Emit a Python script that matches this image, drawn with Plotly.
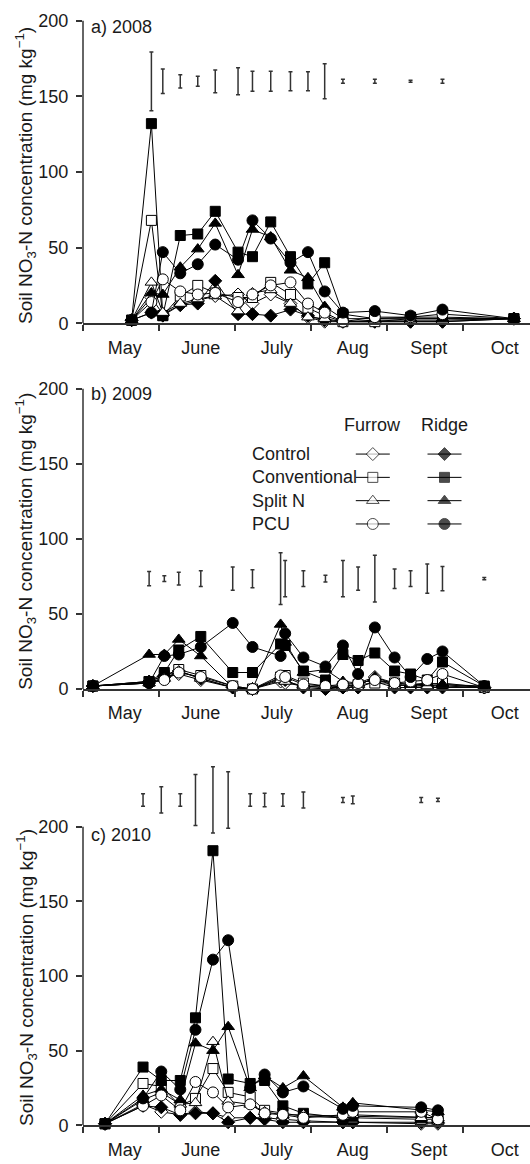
import plotly.graph_objects as go

# ---------------- data (x = months after 1 May) ----------------
MONTHS = ["May", "June", "July", "Aug", "Sept", "Oct"]
MONTH_LABEL_POS = [0.55, 1.55, 2.55, 3.55, 4.55, 5.55]
MONTH_BOUNDS = [0, 1, 2, 3, 4, 5]
Y_TICKS = [0, 50, 100, 150, 200]
TREATMENTS = ["Control", "Conventional", "Split N", "PCU"]

# 2008
x_2008 = [0.64, 0.90, 1.05, 1.28, 1.51, 1.74, 2.04, 2.23, 2.47, 2.73, 2.96, 3.18, 3.42, 3.84, 4.31, 4.73, 5.67]
a_furrow_control = [2, 17, 6, 12, 15, 18, 19, 13, 19, 13, 4, 1, 1, 1, 1, 1, 3]
a_ridge_control = [2, 7, 5, 12, 13, 28, 6, 6, 5, 9, 5, 2, 1, 1, 1, 1, 3]
a_furrow_conv = [2, 68, 5, 18, 25, 20, 17, 17, 27, 19, 10, 5, 1, 1, 3, 3, 3]
a_ridge_conv = [2, 132, 5, 58, 59, 74, 47, 44, 67, 44, 26, 40, 6, 3, 4, 4, 3]
a_furrow_split = [2, 27, 7, 13, 16, 18, 8, 20, 22, 13, 4, 3, 1, 2, 2, 2, 3]
a_ridge_split = [2, 20, 19, 37, 49, 66, 32, 62, 57, 35, 30, 11, 3, 3, 3, 3, 3]
a_furrow_pcu = [2, 14, 29, 21, 19, 20, 14, 19, 25, 27, 13, 7, 1, 4, 4, 6, 3]
a_ridge_pcu = [2, 7, 47, 33, 39, 52, 42, 68, 56, 40, 47, 21, 7, 8, 5, 9, 3]
a_lsd = [19.4, 8.1, 4.4, 3.3, 7.5, 8.9, 6.6, 6.6, 6.3, 6.3, 11.6, 1.3, 1.3, 0.7, 1.3]
a_lsd_level = 160

# 2009
x_2009 = [0.13, 0.87, 1.07, 1.26, 1.55, 1.97, 2.23, 2.60, 2.66, 2.90, 3.19, 3.42, 3.62, 3.84, 4.10, 4.31, 4.53, 4.73, 5.28]
b_furrow_control = [2, 4, 8, 10, 6, 1, 0, 5, 4, 2, 1, 1, 2, 8, 3, 2, 2, 2, 1]
b_ridge_control = [2, 5, 9, 12, 7, 1, 0, 7, 6, 1, 0, 1, 1, 5, 1, 1, 1, 1, 1]
b_furrow_conv = [2, 5, 9, 13, 9, 2, 0, 8, 9, 4, 2, 2, 3, 4, 4, 3, 3, 4, 1]
b_ridge_conv = [2, 5, 11, 26, 35, 11, 11, 30, 29, 12, 6, 23, 19, 24, 12, 10, 6, 18, 2]
b_furrow_split = [2, 4, 7, 12, 7, 1, 0, 6, 5, 2, 1, 2, 3, 7, 2, 3, 2, 3, 1]
b_ridge_split = [2, 23, 23, 33, 22, 1, 0, 43, 31, 11, 13, 5, 4, 8, 4, 3, 4, 3, 2]
b_furrow_pcu = [2, 4, 6, 11, 8, 2, 0, 9, 8, 3, 2, 3, 4, 6, 4, 5, 6, 10, 1]
b_ridge_pcu = [2, 4, 22, 23, 28, 44, 28, 22, 37, 21, 15, 29, 10, 41, 21, 8, 20, 25, 2]
b_lsd = [4.8, 1.9, 4.3, 5.3, 7.8, 6.0, 17.3, 12.0, 5.2, 2.2, 12.0, 7.8, 15.6, 6.5, 5.2, 9.7, 8.0, 0.7]
b_lsd_level = 73.5

# 2010
x_2010 = [0.29, 0.79, 1.03, 1.28, 1.48, 1.71, 1.91, 2.20, 2.39, 2.63, 2.90, 3.42, 3.55, 4.45, 4.67]
c_furrow_control = [1, 14, 9, 7, 9, 8, 5, 5, 5, 4, 3, 2, 2, 1, 1]
c_ridge_control = [1, 13, 12, 7, 8, 8, 2, 5, 4, 2, 2, 2, 2, 2, 2]
c_furrow_conv = [1, 28, 26, 13, 18, 38, 22, 19, 10, 8, 6, 5, 5, 4, 4]
c_ridge_conv = [1, 39, 30, 30, 72, 184, 31, 28, 30, 13, 8, 5, 6, 5, 5]
c_furrow_split = [1, 17, 22, 14, 15, 56, 16, 14, 9, 7, 7, 6, 7, 5, 5]
c_ridge_split = [1, 20, 24, 17, 55, 50, 66, 25, 33, 25, 33, 12, 15, 10, 9]
c_furrow_pcu = [1, 13, 20, 10, 29, 22, 12, 14, 8, 7, 5, 7, 9, 9, 4]
c_ridge_pcu = [1, 18, 36, 24, 64, 111, 124, 25, 34, 22, 26, 11, 13, 12, 10]
c_lsd = [4.2, 8.8, 4.2, 17.1, 22.2, 18.9, 4.2, 4.5, 4.2, 5.3, 1.7, 2.6, 1.7, 1.1]
c_lsd_level = 218

# ---------------- layout constants (pixels) ----------------
W, H = 530, 1164
FONT = "Liberation Sans, Arial, Helvetica, sans-serif"
FS = 18
INK = "#1a1a1a"
AXIS_X0 = 83          # px of y axis / 1 May
PX_PER_MONTH = 76
PANELS = [
    dict(bottom=326, ppu=1.525, top=5, label="a) 2008", label_y=27),
    dict(bottom=695, ppu=1.515, top=380, label="b) 2009", label_y=397),
    dict(bottom=1135, ppu=1.505, top=760, label="c) 2010", label_y=842),
]

SYMBOLS = ["diamond", "square", "triangle-up", "circle"]
SIZES = [10, 10, 11, 11]

panel_data = [
    (x_2008, [a_furrow_control, a_furrow_conv, a_furrow_split, a_furrow_pcu],
     [a_ridge_control, a_ridge_conv, a_ridge_split, a_ridge_pcu], a_lsd, a_lsd_level),
    (x_2009, [b_furrow_control, b_furrow_conv, b_furrow_split, b_furrow_pcu],
     [b_ridge_control, b_ridge_conv, b_ridge_split, b_ridge_pcu], b_lsd, b_lsd_level),
    (x_2010, [c_furrow_control, c_furrow_conv, c_furrow_split, c_furrow_pcu],
     [c_ridge_control, c_ridge_conv, c_ridge_split, c_ridge_pcu], c_lsd, c_lsd_level),
]

fig = go.Figure()
layout = dict(
    width=W, height=H, margin=dict(l=0, r=0, t=0, b=0),
    paper_bgcolor="white", plot_bgcolor="rgba(0,0,0,0)", showlegend=False,
    font=dict(family=FONT, size=FS, color=INK),
)
shapes, annotations = [], []

x_max = (W - AXIS_X0) / PX_PER_MONTH

for i, (p, (xs, furrow, ridge, lsd, lvl)) in enumerate(zip(PANELS, panel_data)):
    n = "" if i == 0 else str(i + 1)
    xa, ya = "x" + n, "y" + n
    ymax = (p["bottom"] - p["top"]) / p["ppu"]
    layout["xaxis" + n] = dict(
        domain=[AXIS_X0 / W, 1], range=[0, x_max], anchor=ya,
        showline=True, linecolor="#333", linewidth=1.5, showgrid=False, zeroline=False,
        tickmode="array", tickvals=MONTH_LABEL_POS, ticktext=MONTHS, ticks="",
        ticklabelstandoff=7, tickfont=dict(size=FS, color=INK),
        minor=dict(tickmode="array", tickvals=MONTH_BOUNDS, ticks="outside",
                   ticklen=6, tickwidth=1.5, tickcolor="#333", showgrid=False),
        fixedrange=True,
    )
    layout["yaxis" + n] = dict(
        domain=[1 - p["bottom"] / H, 1 - p["top"] / H], range=[0, ymax], anchor=xa,
        showline=False, showgrid=False, zeroline=False,
        tickmode="array", tickvals=Y_TICKS, ticks="outside", ticklen=6, tickwidth=1.5,
        tickcolor="#333", ticklabelstandoff=4, tickfont=dict(size=FS, color=INK),
        fixedrange=True,
    )
    shapes.append(dict(type="line", xref=xa + " domain", yref=ya, x0=0, x1=0, y0=0, y1=200,
                       line=dict(color="#333", width=1.5)))
    annotations.append(dict(text=p["label"], xref="paper", yref="paper", x=89 / W,
                            y=1 - p["label_y"] / H, xanchor="left", yanchor="middle",
                            showarrow=False, font=dict(size=FS, color=INK)))
    mid = p["bottom"] - 148.5
    annotations.append(dict(text="Soil NO<sub>3</sub>-N concentration (mg kg<sup>\u22121</sup>)",
                            xref="paper", yref="paper", x=26 / W, y=1 - mid / H,
                            xanchor="center", yanchor="middle", textangle=-90,
                            showarrow=False, font=dict(size=19, color=INK)))
    for k in range(4):
        for vals, fill in ((furrow[k], "white"), (ridge[k], "black")):
            fig.add_trace(go.Scatter(
                x=xs, y=vals, xaxis=xa, yaxis=ya, mode="lines+markers", cliponaxis=False,
                line=dict(color="black", width=1),
                marker=dict(symbol=SYMBOLS[k], size=SIZES[k], color=fill,
                            line=dict(color="black", width=1)),
                name=TREATMENTS[k],
            ))
    lsd_x = xs[1:1 + len(lsd)]
    fig.add_trace(go.Scatter(
        x=lsd_x, y=[lvl] * len(lsd_x), xaxis=xa, yaxis=ya, mode="markers", cliponaxis=False,
        marker=dict(size=1, color="rgba(0,0,0,0)"),
        error_y=dict(type="data", array=lsd, visible=True, color="#333", thickness=1.5, width=2),
    ))

# ---------------- legend (drawn in panel b, pixel overlay axis) ----------------
layout["xaxis4"] = dict(domain=[0, 1], range=[0, W], visible=False, anchor="y4", fixedrange=True)
layout["yaxis4"] = dict(domain=[0, 1], range=[H, 0], visible=False, anchor="x4", fixedrange=True)
LEG_ROWS_Y = [458, 481.5, 505, 528.5]
LEG_TEXT_X = 250
LEG_COLS = [(372.8, "white", "Furrow"), (444.5, "black", "Ridge")]
for cx, fill, head in LEG_COLS:
    annotations.append(dict(text=head, xref="paper", yref="paper", x=cx / W, y=1 - 429 / H,
                            xanchor="center", yanchor="middle", showarrow=False,
                            font=dict(size=FS, color=INK)))
    for k, ry in enumerate(LEG_ROWS_Y):
        fig.add_trace(go.Scatter(
            x=[cx - 17, cx, cx + 17], y=[ry, ry, ry], xaxis="x4", yaxis="y4",
            mode="lines+markers", line=dict(color="black", width=1),
            marker=dict(symbol=SYMBOLS[k], size=[0, SIZES[k], 0], color=fill,
                        line=dict(color="black", width=[0, 1, 0])),
        ))
for k, ry in enumerate(LEG_ROWS_Y):
    annotations.append(dict(text=TREATMENTS[k], xref="paper", yref="paper", x=LEG_TEXT_X / W,
                            y=1 - ry / H, xanchor="left", yanchor="middle", showarrow=False,
                            font=dict(size=FS, color=INK)))

layout["shapes"] = shapes
layout["annotations"] = annotations
fig.update_layout(**layout)
fig.write_html("out.html")
